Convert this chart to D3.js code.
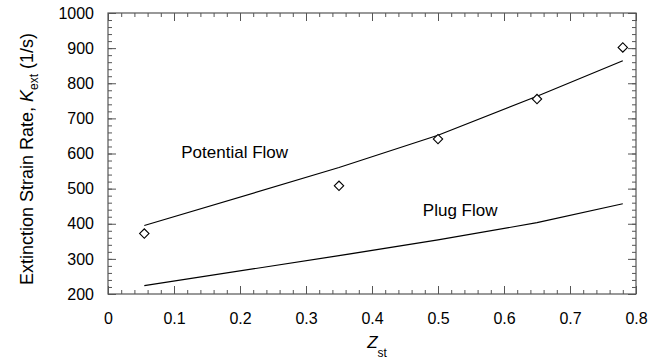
<!DOCTYPE html>
<html>
<head>
<meta charset="utf-8">
<script src="https://cdn.jsdelivr.net/npm/d3@7"></script>
<style>
  html, body { margin: 0; padding: 0; background: #fff; }
  svg { display: block; font-family: Arial, "Liberation Sans", Helvetica, sans-serif; }
</style>
</head>
<body>
<svg id="chart" width="651" height="363"></svg>
<script>
// ---- data ----
const measuredZ = [0.055, 0.35, 0.5, 0.65, 0.78];
const measuredK = [372, 508, 641, 755, 902];

const potentialZ = [0.055, 0.35, 0.5, 0.65, 0.78];
const potentialK = [395, 560, 652, 763, 864];

const plugZ = [0.055, 0.35, 0.5, 0.65, 0.78];
const plugK = [224, 309, 354, 403, 457];

const xTicks = [0, 0.1, 0.2, 0.3, 0.4, 0.5, 0.6, 0.7, 0.8];
const yTicks = [200, 300, 400, 500, 600, 700, 800, 900, 1000];
const curveLabels = ["Potential Flow", "Plug Flow"];

// ---- layout ----
const svg = d3.select("#chart");
const L = 108, R = 636, T = 13, B = 294;
const x = d3.scaleLinear().domain([0, 0.8]).range([L, R]);
const y = d3.scaleLinear().domain([200, 1000]).range([B, T]);
const axisColor = "#555";
const fs = 16;

const xMinor = d3.range(0, 0.8001, 0.02);
const yMinor = d3.range(200, 1000.1, 20);

function styleAxis(g) {
  g.select(".domain").remove();
  g.selectAll(".tick line").attr("stroke", axisColor).attr("stroke-width", 1);
  g.selectAll("text").attr("font-size", fs).attr("fill", "#000").attr("font-family", "Arial, 'Liberation Sans', sans-serif");
}

// minor ticks
svg.append("g").attr("transform", `translate(0,${B})`)
  .call(d3.axisBottom(x).tickValues(xMinor).tickFormat("").tickSize(-4)).call(styleAxis);
svg.append("g").attr("transform", `translate(0,${T})`)
  .call(d3.axisTop(x).tickValues(xMinor).tickFormat("").tickSize(-4)).call(styleAxis);
svg.append("g").attr("transform", `translate(${L},0)`)
  .call(d3.axisLeft(y).tickValues(yMinor).tickFormat("").tickSize(-4)).call(styleAxis);
svg.append("g").attr("transform", `translate(${R},0)`)
  .call(d3.axisRight(y).tickValues(yMinor).tickFormat("").tickSize(-4)).call(styleAxis);

// major ticks + labels
svg.append("g").attr("transform", `translate(0,${B})`)
  .call(d3.axisBottom(x).tickValues(xTicks).tickFormat(d => d === 0 ? "0" : d3.format(".1f")(d)).tickSize(-8).tickPadding(19))
  .call(styleAxis);
svg.append("g").attr("transform", `translate(0,${T})`)
  .call(d3.axisTop(x).tickValues(xTicks).tickFormat("").tickSize(-8)).call(styleAxis);
svg.append("g").attr("transform", `translate(${L},0)`)
  .call(d3.axisLeft(y).tickValues(yTicks).tickFormat(d3.format("d")).tickSize(-8).tickPadding(14))
  .call(styleAxis);
svg.append("g").attr("transform", `translate(${R},0)`)
  .call(d3.axisRight(y).tickValues(yTicks).tickFormat("").tickSize(-8)).call(styleAxis);

// frame
svg.append("rect").attr("x", L).attr("y", T).attr("width", R - L).attr("height", B - T)
  .attr("fill", "none").attr("stroke", axisColor).attr("stroke-width", 1.2);

// lines
const line = d3.line().x(d => x(d[0])).y(d => y(d[1]));
svg.append("path").datum(potentialZ.map((z, i) => [z, potentialK[i]]))
  .attr("d", line).attr("fill", "none").attr("stroke", "#000").attr("stroke-width", 1.2);
svg.append("path").datum(plugZ.map((z, i) => [z, plugK[i]]))
  .attr("d", line).attr("fill", "none").attr("stroke", "#000").attr("stroke-width", 1.2);

// diamonds
const diamond = d3.symbol().type(d3.symbolSquare).size(44);
svg.append("g").selectAll("path").data(measuredZ.map((z, i) => [z, measuredK[i]]))
  .join("path")
  .attr("d", diamond)
  .attr("transform", d => `translate(${x(d[0])},${y(d[1])}) rotate(45)`)
  .attr("fill", "#fff").attr("stroke", "#000").attr("stroke-width", 1.1);

// curve labels
svg.append("text").attr("x", x(0.111)).attr("y", y(588)).attr("font-size", 17).text(curveLabels[0]);
svg.append("text").attr("x", x(0.477)).attr("y", y(423)).attr("font-size", 17).text(curveLabels[1]);

// x title
const xt = svg.append("text").attr("x", 377).attr("y", 348).attr("text-anchor", "middle").attr("font-size", 17);
xt.append("tspan").attr("font-style", "italic").text("Z");
xt.append("tspan").attr("font-size", 12).attr("dy", 9).text("st");

// y title
const yt = svg.append("text").attr("transform", `translate(33,159) rotate(-90)`)
  .attr("text-anchor", "middle").attr("font-size", 18);
yt.append("tspan").text("Extinction Strain Rate, ");
yt.append("tspan").attr("font-style", "italic").text("K");
yt.append("tspan").attr("font-size", 12).attr("dy", 5).text("ext");
yt.append("tspan").attr("dy", -5).text(" (1/s)");
</script>
</body>
</html>
